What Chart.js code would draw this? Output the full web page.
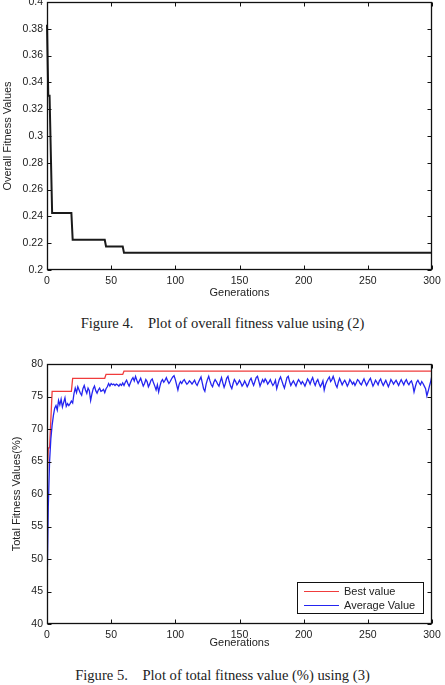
<!DOCTYPE html>
<html><head><meta charset="utf-8">
<script src="https://cdn.jsdelivr.net/npm/chart.js@4"></script>
<style>
html,body{margin:0;padding:0;background:#fff;width:445px;height:685px;overflow:hidden;}
canvas{position:absolute;left:0;}
#c1{top:0;}
#c2{top:350px;}
.cap{position:absolute;left:0;width:445px;text-align:center;font-family:"Liberation Serif","Times New Roman",serif;font-size:14.6px;color:#222;white-space:pre;line-height:16px;}
</style></head><body>
<canvas id="c1" width="445" height="300"></canvas>
<div class="cap" style="top:315px">Figure 4.    Plot of overall fitness value using (2)</div>
<canvas id="c2" width="445" height="300"></canvas>
<div class="cap" style="top:667px">Figure 5.    Plot of total fitness value (%) using (3)</div>
<script>
// ---- Figure 4 data ----
const fig4Gen = [0, 1, 2, 4, 19, 20, 45, 46, 59, 60, 300];
const fig4Fitness = [0.383, 0.33, 0.33, 0.2425, 0.2425, 0.2225, 0.2225, 0.2175, 0.2175, 0.2128, 0.2128];
const fig4XTicks = [0, 50, 100, 150, 200, 250, 300];
const fig4YTicks = [0.2, 0.22, 0.24, 0.26, 0.28, 0.3, 0.32, 0.34, 0.36, 0.38, 0.4];

// ---- Figure 5 data ----
const fig5BestGen = [0, 1, 2, 4, 19, 20, 45, 46, 59, 60, 300];
const fig5Best = [61.7, 67.1, 67.1, 75.8, 75.8, 77.8, 77.8, 78.4, 78.4, 78.9, 78.9];
const fig5Average = [
45, 58, 65, 68.5, 70.6, 72.1, 73.2, 73.6, 72.9, 74.4,
73.7, 74.6, 73.4, 74.1, 74.8, 73.5, 73.9, 73.6, 73.9, 74.3,
74.0, 75.4, 76.3, 75.6, 76.5, 76.0, 75.5, 75.2, 76.2, 76.7,
76.0, 75.5, 76.3, 75.9, 74.4, 75.4, 76.2, 76.6, 75.9, 75.5,
76.0, 76.3, 75.8, 75.9, 76.1, 75.6, 76.2, 76.5, 77.0, 76.6,
77.0, 76.8, 76.9, 76.7, 76.9, 76.8, 76.6, 76.9, 76.7, 77.1,
76.7, 77.2, 77.5, 77.0, 76.6, 77.1, 77.6, 77.9, 77.4, 78.1,
77.5, 77.0, 77.4, 77.8, 77.2, 76.6, 77.0, 77.6, 77.3, 76.5,
76.9, 77.5, 77.7, 77.1, 76.6, 76.0, 76.8, 75.7, 76.6, 77.3,
77.6, 77.2, 77.5, 77.9, 77.4, 77.0, 77.3, 77.7, 78.0, 78.2,
77.6, 76.8, 76.0, 76.9, 77.3, 77.0, 77.4, 77.6, 77.2, 76.9,
77.1, 77.4, 77.2, 76.9, 77.2, 77.5, 77.0, 76.7, 77.2, 77.6,
78.0, 77.1, 76.2, 75.8, 76.9, 77.6, 78.1, 77.4, 76.8, 76.5,
77.2, 77.6, 77.3, 76.9, 76.6, 77.3, 77.9, 77.1, 76.4, 77.0,
77.8, 78.1, 77.3, 76.6, 76.2, 77.0, 77.6, 77.3, 76.8, 77.1,
77.5, 77.1, 76.6, 76.9, 77.4, 77.0, 76.5, 76.9, 77.5, 77.8,
77.2, 76.7, 77.3, 77.9, 78.1, 77.4, 76.6, 77.1, 77.6, 77.2,
77.7, 77.4, 76.9, 77.2, 77.6, 77.1, 76.7, 77.0, 77.5, 76.2,
76.9, 77.6, 78.0, 77.4, 76.8, 76.3, 77.1, 77.9, 78.1, 77.3,
76.7, 77.1, 77.4, 77.0, 76.6, 77.2, 77.6, 77.3, 76.9, 77.3,
77.0, 76.6, 77.1, 77.7, 77.4, 76.9, 77.5, 77.9, 77.2, 76.7,
77.3, 77.6, 77.0, 76.5, 76.9, 77.4, 76.0, 76.8, 77.3, 77.7,
78.0, 77.3, 77.6, 78.1, 77.5, 76.8, 76.4, 77.2, 77.8, 77.3,
76.8, 77.2, 77.5, 77.1, 76.6, 77.0, 77.6, 77.3, 76.9, 77.2,
76.7, 77.1, 77.6, 77.4, 77.0, 76.8, 77.3, 77.7, 77.2, 76.7,
77.1, 77.5, 77.8, 77.2, 76.6, 77.0, 77.5, 77.2, 76.8, 77.4,
77.7, 77.1, 76.7, 77.1, 77.5, 77.0, 76.5, 77.0, 77.6, 77.3,
76.9, 77.2, 77.5, 77.1, 76.7, 77.2, 77.6, 77.2, 76.8, 77.3,
77.6, 77.1, 76.8, 77.2, 77.4, 76.8, 75.7, 76.5, 77.2, 77.5,
77.1, 76.8, 77.3, 77.0, 76.6, 76.2, 75.1, 75.8, 76.6, 77.3,
78.3
];
const fig5XTicks = [0, 50, 100, 150, 200, 250, 300];
const fig5YTicks = [40, 45, 50, 55, 60, 65, 70, 75, 80];
const fig5Labels = ['Best value', 'Average Value'];

const SANS = '"Liberation Sans", Arial, Helvetica, sans-serif';
const TXT = '#222';

const framePlugin = {
  id: 'frame',
  afterDatasetsDraw(chart) {
    const {ctx, chartArea: a, scales} = chart;
    ctx.save();
    ctx.strokeStyle = '#111';
    ctx.lineWidth = 1;
    const L = Math.round(a.left) + 0.5, R = Math.round(a.right) - 0.5;
    const T = Math.round(a.top) + 0.5, B = Math.round(a.bottom) - 0.5;
    ctx.beginPath();
    scales.x.ticks.forEach(t => {
      const px = Math.round(scales.x.getPixelForValue(t.value)) + 0.5;
      ctx.moveTo(px, B); ctx.lineTo(px, B - 4);
      ctx.moveTo(px, T); ctx.lineTo(px, T + 4);
    });
    scales.y.ticks.forEach(t => {
      const py = Math.round(scales.y.getPixelForValue(t.value)) + 0.5;
      ctx.moveTo(L, py); ctx.lineTo(L + 4, py);
      ctx.moveTo(R, py); ctx.lineTo(R - 4, py);
    });
    ctx.stroke();
    ctx.lineWidth = 1.3;
    ctx.strokeRect(L, T, R - L, B - T);
    ctx.restore();
  }
};

const legendBoxPlugin = {
  id: 'legendBox',
  afterDraw(chart, args, opts) {
    if (!opts || !opts.show) return;
    const {ctx, chartArea: a} = chart;
    const w = 126, h = 31;
    const x = Math.round(a.right - 9 - w), y = Math.round(a.bottom - 11 - h);
    ctx.save();
    ctx.fillStyle = '#fff';
    ctx.fillRect(x, y, w, h);
    ctx.strokeStyle = '#111';
    ctx.lineWidth = 1;
    ctx.strokeRect(x + 0.5, y + 0.5, w, h);
    ctx.font = '11px ' + SANS;
    ctx.textBaseline = 'middle';
    opts.items.forEach((it, i) => {
      const yy = y + 9.5 + i * 14;
      ctx.strokeStyle = it.color;
      ctx.lineWidth = 1.2;
      ctx.beginPath(); ctx.moveTo(x + 7, yy); ctx.lineTo(x + 42, yy); ctx.stroke();
      ctx.fillStyle = TXT;
      ctx.fillText(it.label, x + 47, yy);
    });
    ctx.restore();
  }
};

function axes(xTicks, yTicks, yTitle, yTitlePad, xH, yMin, yMax) {
  return {
    x: {
      type: 'linear', min: 0, max: 300,
      afterBuildTicks: s => { s.ticks = xTicks.map(v => ({value: v})); },
      afterFit: s => { s.height = xH; s.paddingLeft = 0; s.paddingRight = 0; },
      grid: {display: false, drawTicks: false},
      border: {display: false},
      ticks: {color: TXT, font: {family: SANS, size: 10.5}, padding: 5, maxRotation: 0, autoSkip: false,
              callback: v => String(v)},
      title: {display: true, text: 'Generations', color: TXT, font: {family: SANS, size: 11}, padding: {top: 0, bottom: 0}}
    },
    y: {
      type: 'linear', min: yMin, max: yMax,
      afterBuildTicks: s => { s.ticks = yTicks.map(v => ({value: v})); },
      afterFit: s => { s.width = 47; s.paddingTop = 0; s.paddingBottom = 0; },
      grid: {display: false, drawTicks: false},
      border: {display: false},
      ticks: {color: TXT, font: {family: SANS, size: 10.5}, padding: 4, autoSkip: false,
              callback: v => String(v)},
      title: {display: true, text: yTitle, color: TXT, font: {family: SANS, size: 11}, padding: {top: yTitlePad, bottom: 0}}
    }
  };
}

new Chart(document.getElementById('c1'), {
  type: 'line',
  data: {
    datasets: [{
      data: fig4Gen.map((g, i) => ({x: g, y: fig4Fitness[i]})),
      borderColor: '#1a1a1a', borderWidth: 2, pointRadius: 0, tension: 0, fill: false, clip: 3
    }]
  },
  options: {
    responsive: false, animation: false, events: [],
    layout: {padding: {top: 2, right: 13, left: 0, bottom: 0}},
    plugins: {legend: {display: false}, tooltip: {enabled: false}},
    scales: axes(fig4XTicks, fig4YTicks, 'Overall Fitness Values', 1, 30, 0.2, 0.4)
  },
  plugins: [framePlugin]
});

const redC = '#f03c3c', blueC = '#2424f0';
new Chart(document.getElementById('c2'), {
  type: 'line',
  data: {
    datasets: [
      {label: fig5Labels[0], order: 1, data: fig5BestGen.map((g, i) => ({x: g, y: fig5Best[i]})),
       borderColor: redC, borderWidth: 1.3, pointRadius: 0, tension: 0, fill: false},
      {label: fig5Labels[1], order: 0, data: fig5Average.map((v, i) => ({x: i, y: v})),
       borderColor: blueC, borderWidth: 1.3, pointRadius: 0, tension: 0, fill: false}
    ]
  },
  options: {
    responsive: false, animation: false, events: [],
    layout: {padding: {top: 14, right: 13, left: 0, bottom: 0}},
    plugins: {legend: {display: false}, tooltip: {enabled: false},
      legendBox: {show: true, items: [{label: fig5Labels[0], color: redC}, {label: fig5Labels[1], color: blueC}]}},
    scales: axes(fig5XTicks, fig5YTicks, 'Total Fitness Values(%)', 10, 26, 40, 80)
  },
  plugins: [framePlugin, legendBoxPlugin]
});
</script>
</body></html>
